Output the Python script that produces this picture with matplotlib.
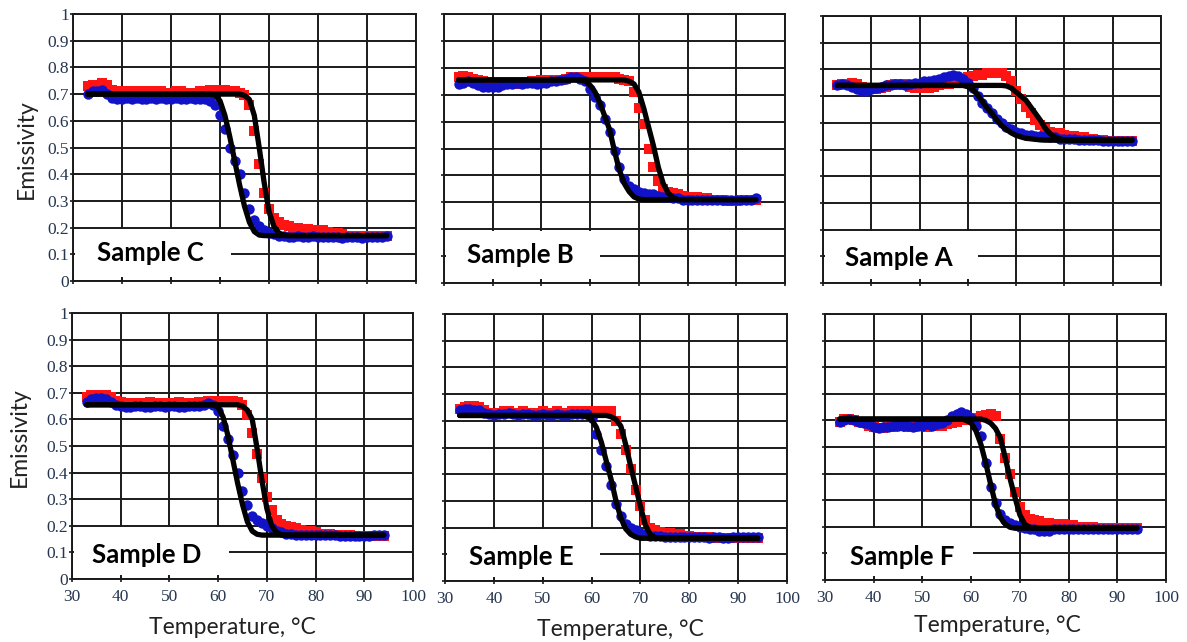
import matplotlib
matplotlib.use("Agg")
import matplotlib.pyplot as plt
from matplotlib.patches import Rectangle
import numpy as np

# ---------------- data ----------------
temps = list(range(33, 95))  # °C, 1 °C steps

c_heat = [0.73, 0.735, 0.73, 0.74, 0.735, 0.715, 0.71, 0.705, 0.71, 0.71,
          0.705, 0.71, 0.71, 0.705, 0.71, 0.71, 0.705, 0.705, 0.71, 0.71,
          0.705, 0.705, 0.705, 0.71, 0.71, 0.715, 0.715, 0.715, 0.715, 0.71,
          0.71, 0.705, 0.695, 0.66, 0.56, 0.44, 0.33, 0.27, 0.235, 0.22,
          0.21, 0.205, 0.20, 0.20, 0.195, 0.195, 0.19, 0.19, 0.19, 0.185,
          0.18, 0.18, 0.175, 0.17, 0.17, 0.17, 0.17, 0.165, 0.17, 0.17,
          0.17, 0.17]
c_cool = [0.70, 0.71, 0.71, 0.715, 0.70, 0.685, 0.68, 0.68, 0.685, 0.68,
          0.685, 0.68, 0.68, 0.685, 0.68, 0.685, 0.68, 0.68, 0.685, 0.68,
          0.68, 0.685, 0.68, 0.68, 0.68, 0.675, 0.66, 0.62, 0.57, 0.50,
          0.45, 0.40, 0.33, 0.27, 0.23, 0.205, 0.19, 0.18, 0.175, 0.17,
          0.17, 0.165, 0.165, 0.17, 0.165, 0.165, 0.17, 0.165, 0.165, 0.165,
          0.165, 0.165, 0.16, 0.165, 0.165, 0.165, 0.16, 0.165, 0.165, 0.165,
          0.165, 0.17]
c_heat_fit = [0.70] * 32 + [0.695, 0.68, 0.62, 0.50, 0.37, 0.26, 0.205, 0.18, 0.172] + [0.17] * 21
c_cool_fit = [0.70] * 26 + [0.695, 0.675, 0.62, 0.54, 0.45, 0.36, 0.28, 0.22, 0.185, 0.172] + [0.17] * 26

b_heat = [0.765, 0.77, 0.765, 0.76, 0.755, 0.75, 0.745, 0.745, 0.74, 0.74,
          0.745, 0.745, 0.74, 0.745, 0.745, 0.75, 0.75, 0.755, 0.755, 0.755,
          0.755, 0.755, 0.76, 0.765, 0.765, 0.765, 0.765, 0.765, 0.765, 0.765,
          0.765, 0.765, 0.765, 0.76, 0.755, 0.75, 0.71, 0.65, 0.59, 0.50,
          0.43, 0.38, 0.35, 0.34, 0.335, 0.33, 0.325, 0.32, 0.32, 0.32,
          0.315, 0.315, 0.31, 0.31, 0.31, 0.305, 0.305, 0.305, 0.31, 0.31,
          0.31, 0.31]
b_cool = [0.74, 0.745, 0.75, 0.745, 0.735, 0.73, 0.73, 0.73, 0.73, 0.735,
          0.74, 0.74, 0.745, 0.74, 0.745, 0.745, 0.74, 0.745, 0.745, 0.75,
          0.75, 0.755, 0.76, 0.765, 0.765, 0.76, 0.75, 0.72, 0.69, 0.66,
          0.61, 0.56, 0.49, 0.43, 0.385, 0.36, 0.35, 0.34, 0.335, 0.33,
          0.33, 0.325, 0.32, 0.32, 0.315, 0.315, 0.31, 0.31, 0.31, 0.31,
          0.31, 0.31, 0.31, 0.31, 0.31, 0.31, 0.31, 0.31, 0.31, 0.31,
          0.31, 0.315]
b_heat_fit = [0.755] * 35 + [0.75, 0.74, 0.71, 0.65, 0.58, 0.51, 0.43, 0.37, 0.335, 0.318, 0.31] + [0.31] * 16
b_cool_fit = [0.755] * 26 + [0.75, 0.735, 0.71, 0.67, 0.62, 0.57, 0.49, 0.42, 0.37, 0.34, 0.32, 0.312] + [0.31] * 24

a_heat = [0.74, 0.745, 0.745, 0.75, 0.745, 0.735, 0.73, 0.73, 0.725, 0.73,
          0.735, 0.74, 0.745, 0.74, 0.745, 0.735, 0.73, 0.73, 0.73, 0.73,
          0.735, 0.74, 0.745, 0.745, 0.75, 0.755, 0.765, 0.77, 0.775, 0.78,
          0.78, 0.785, 0.785, 0.785, 0.785, 0.775, 0.755, 0.72, 0.69, 0.66,
          0.635, 0.61, 0.59, 0.575, 0.565, 0.56, 0.56, 0.555, 0.55, 0.55,
          0.545, 0.545, 0.54, 0.54, 0.535, 0.535, 0.53, 0.53, 0.53, 0.53,
          0.53, 0.53]
a_cool = [0.74, 0.745, 0.74, 0.735, 0.725, 0.72, 0.72, 0.725, 0.73, 0.735,
          0.74, 0.74, 0.745, 0.745, 0.74, 0.745, 0.75, 0.75, 0.755, 0.755,
          0.76, 0.765, 0.77, 0.775, 0.78, 0.775, 0.765, 0.75, 0.73, 0.70,
          0.675, 0.655, 0.635, 0.615, 0.60, 0.585, 0.575, 0.565, 0.56, 0.555,
          0.555, 0.55, 0.55, 0.55, 0.545, 0.545, 0.54, 0.54, 0.54, 0.54,
          0.535, 0.535, 0.535, 0.535, 0.535, 0.53, 0.53, 0.53, 0.53, 0.53,
          0.53, 0.53]
a_heat_fit = [0.74] * 35 + [0.738, 0.73, 0.715, 0.70, 0.685, 0.66, 0.635, 0.61, 0.58, 0.56, 0.547, 0.54, 0.536] + [0.535] * 14
a_cool_fit = [0.74] * 27 + [0.735, 0.725, 0.705, 0.68, 0.655, 0.635, 0.61, 0.59, 0.575, 0.562, 0.553, 0.547, 0.542, 0.54, 0.538, 0.536] + [0.535] * 19

d_heat = [0.685, 0.69, 0.69, 0.69, 0.69, 0.685, 0.67, 0.665, 0.66, 0.66,
          0.655, 0.66, 0.66, 0.665, 0.66, 0.655, 0.66, 0.66, 0.66, 0.665,
          0.66, 0.655, 0.66, 0.665, 0.665, 0.67, 0.67, 0.67, 0.67, 0.67,
          0.67, 0.665, 0.655, 0.615, 0.55, 0.47, 0.38, 0.31, 0.26, 0.22,
          0.205, 0.20, 0.195, 0.19, 0.185, 0.18, 0.18, 0.175, 0.17, 0.17,
          0.17, 0.165, 0.165, 0.165, 0.165, 0.16, 0.16, 0.16, 0.16, 0.16,
          0.16, 0.16]
d_cool = [0.665, 0.675, 0.68, 0.68, 0.675, 0.665, 0.655, 0.65, 0.645, 0.645,
          0.65, 0.65, 0.645, 0.645, 0.65, 0.65, 0.645, 0.65, 0.65, 0.645,
          0.645, 0.65, 0.65, 0.65, 0.655, 0.66, 0.655, 0.63, 0.575, 0.525,
          0.465, 0.40, 0.33, 0.28, 0.235, 0.22, 0.21, 0.20, 0.19, 0.18,
          0.175, 0.17, 0.17, 0.165, 0.165, 0.165, 0.165, 0.165, 0.165, 0.165,
          0.165, 0.165, 0.16, 0.16, 0.16, 0.16, 0.16, 0.16, 0.16, 0.165,
          0.165, 0.165]
d_heat_fit = [0.655] * 32 + [0.65, 0.635, 0.60, 0.49, 0.37, 0.265, 0.20, 0.175, 0.167] + [0.165] * 21
d_cool_fit = [0.655] * 27 + [0.645, 0.61, 0.54, 0.45, 0.36, 0.28, 0.215, 0.18, 0.168] + [0.165] * 26

e_heat = [0.645, 0.65, 0.655, 0.655, 0.65, 0.64, 0.63, 0.63, 0.63, 0.635,
          0.635, 0.63, 0.63, 0.635, 0.63, 0.63, 0.63, 0.635, 0.63, 0.63,
          0.635, 0.63, 0.63, 0.635, 0.635, 0.635, 0.635, 0.635, 0.635, 0.635,
          0.635, 0.635, 0.60, 0.55, 0.49, 0.42, 0.34, 0.28, 0.23, 0.20,
          0.19, 0.185, 0.18, 0.18, 0.175, 0.175, 0.17, 0.17, 0.165, 0.165,
          0.165, 0.165, 0.16, 0.16, 0.16, 0.16, 0.16, 0.16, 0.16, 0.16,
          0.16, 0.16]
e_cool = [0.64, 0.645, 0.645, 0.64, 0.64, 0.63, 0.625, 0.62, 0.625, 0.625,
          0.63, 0.625, 0.62, 0.625, 0.625, 0.62, 0.62, 0.625, 0.62, 0.62,
          0.625, 0.62, 0.62, 0.625, 0.625, 0.625, 0.625, 0.61, 0.55, 0.49,
          0.43, 0.36, 0.29, 0.245, 0.215, 0.20, 0.19, 0.18, 0.175, 0.17,
          0.17, 0.17, 0.165, 0.165, 0.165, 0.165, 0.165, 0.165, 0.165, 0.165,
          0.165, 0.16, 0.165, 0.165, 0.16, 0.16, 0.165, 0.165, 0.165, 0.165,
          0.165, 0.165]
e_heat_fit = [0.62] * 31 + [0.615, 0.605, 0.58, 0.51, 0.43, 0.355, 0.28, 0.21, 0.175, 0.163] + [0.16] * 21
e_cool_fit = [0.62] * 26 + [0.615, 0.605, 0.575, 0.52, 0.45, 0.38, 0.30, 0.235, 0.195, 0.175, 0.165] + [0.16] * 25

f_heat = [0.595, 0.605, 0.605, 0.60, 0.595, 0.59, 0.58, 0.575, 0.57, 0.57,
          0.575, 0.575, 0.58, 0.58, 0.575, 0.575, 0.58, 0.58, 0.575, 0.58,
          0.585, 0.58, 0.585, 0.59, 0.595, 0.60, 0.60, 0.605, 0.61, 0.615,
          0.62, 0.625, 0.615, 0.53, 0.46, 0.40, 0.33, 0.275, 0.245, 0.23,
          0.225, 0.22, 0.215, 0.215, 0.21, 0.21, 0.21, 0.205, 0.205, 0.20,
          0.20, 0.20, 0.20, 0.195, 0.195, 0.195, 0.195, 0.195, 0.195, 0.195,
          0.195, 0.195]
f_cool = [0.595, 0.60, 0.605, 0.60, 0.595, 0.59, 0.585, 0.575, 0.57, 0.575,
          0.575, 0.58, 0.58, 0.58, 0.58, 0.575, 0.58, 0.58, 0.585, 0.58,
          0.585, 0.59, 0.60, 0.615, 0.625, 0.63, 0.625, 0.61, 0.58, 0.54,
          0.44, 0.35, 0.29, 0.25, 0.225, 0.215, 0.205, 0.20, 0.195, 0.19,
          0.19, 0.185, 0.185, 0.185, 0.19, 0.19, 0.19, 0.19, 0.19, 0.19,
          0.19, 0.19, 0.19, 0.19, 0.19, 0.19, 0.19, 0.19, 0.19, 0.19,
          0.19, 0.19]
f_heat_fit = [0.605] * 30 + [0.60, 0.59, 0.57, 0.535, 0.46, 0.38, 0.31, 0.245, 0.21, 0.198] + [0.195] * 22
f_cool_fit = [0.605] * 26 + [0.60, 0.59, 0.56, 0.51, 0.44, 0.36, 0.285, 0.235, 0.21, 0.198] + [0.195] * 26

sample_names = ["Sample C", "Sample B", "Sample A", "Sample D", "Sample E", "Sample F"]
x_ticks = [30, 40, 50, 60, 70, 80, 90, 100]
y_ticks = [0, 0.1, 0.2, 0.3, 0.4, 0.5, 0.6, 0.7, 0.8, 0.9, 1]
y_tick_labels = ["0", "0.1", "0.2", "0.3", "0.4", "0.5", "0.6", "0.7", "0.8", "0.9", "1"]
x_tick_labels = ["30", "40", "50", "60", "70", "80", "90", "100"]

series = [
    (c_heat, c_cool, c_heat_fit, c_cool_fit),
    (b_heat, b_cool, b_heat_fit, b_cool_fit),
    (a_heat, a_cool, a_heat_fit, a_cool_fit),
    (d_heat, d_cool, d_heat_fit, d_cool_fit),
    (e_heat, e_cool, e_heat_fit, e_cool_fit),
    (f_heat, f_cool, f_heat_fit, f_cool_fit),
]

# ---------------- layout ----------------
W, H = 1187, 642
fig = plt.figure(figsize=(W / 100, H / 100), dpi=100)
fig.patch.set_facecolor("white")

# axes boxes in pixels: left, top, right, bottom
boxes = [(73, 14, 416, 281), (444, 14, 785, 283), (823, 16, 1161, 283),
         (72, 313, 413, 579), (445, 314, 787, 581), (825, 314, 1166, 580)]
label_box_right = [62.2, 62.0, 62.0, 62.3, 61.8, 60.3]
label_pos = [(34.9, 0.105), (34.7, 0.104), (34.5, 0.094),
             (34.1, 0.09), (34.9, 0.09), (35.1, 0.086)]

GRID = "#1a1a1a"
TICKC = "#263650"

for i, (l, t, r, b) in enumerate(boxes):
    ax = fig.add_axes([l / W, 1 - b / H, (r - l) / W, (b - t) / H])
    ax.set_xlim(30, 100)
    ax.set_ylim(0, 1)
    ax.set_axisbelow(True)
    ax.set_xticks(x_ticks)
    ax.set_yticks(y_ticks)
    ax.grid(True, color=GRID, lw=1.4)
    for sp in ax.spines.values():
        sp.set_color(GRID)
        sp.set_linewidth(1.4)
        sp.set_zorder(3)
    ax.tick_params(axis="both", direction="inout", length=4, width=1.2, color=GRID)
    if i in (0, 3):
        ax.set_yticklabels(y_tick_labels, fontfamily="Liberation Serif",
                           fontsize=12.5, color=TICKC)
        ax.tick_params(axis="y", pad=1)
    else:
        ax.set_yticklabels([])
    if i >= 3:
        ax.set_xticklabels(x_tick_labels, fontfamily="Liberation Serif",
                           fontsize=12.5, color=TICKC)
        ax.tick_params(axis="x", pad=5)
    else:
        ax.set_xticklabels([])

    heat, cool, heat_fit, cool_fit = series[i]
    ax.plot(temps, heat, ls="none", marker="s", ms=7.8, mew=0,
            color="#ff1414", zorder=2)
    ax.plot(temps, cool, ls="none", marker="o", ms=7.5, mew=0,
            color="#1212c8", zorder=2.2)
    ax.plot(temps, heat_fit, color="black", lw=3.8, solid_joinstyle="round",
            solid_capstyle="round", zorder=2.5)
    ax.plot(temps, cool_fit, color="black", lw=3.8, solid_joinstyle="round",
            solid_capstyle="round", zorder=2.5)

    ax.add_patch(Rectangle((30.35, 0.016), label_box_right[i] - 30.35, 0.178,
                           facecolor="white", edgecolor="none", zorder=1))
    tx, ty = label_pos[i]
    ax.text(tx, ty, sample_names[i], fontfamily="Lato", fontweight="bold",
            fontsize=18.5, va="center", ha="left", color="black", zorder=5)

# axis titles
lab_kw = dict(fontfamily="Lato", fontsize=16.5, color="#222222")
fig.text(26 / W, 1 - 149 / H, "Emissivity", rotation=90, ha="center", va="center", **lab_kw)
fig.text(19 / W, 1 - 437 / H, "Emissivity", rotation=90, ha="center", va="center", **lab_kw)
for cx, cy in [(232, 627), (620, 630), (997, 625)]:
    fig.text(cx / W, 1 - cy / H, "Temperature, °C", ha="center", va="center", **lab_kw)

fig.savefig("out.png", dpi=100, facecolor="white")
